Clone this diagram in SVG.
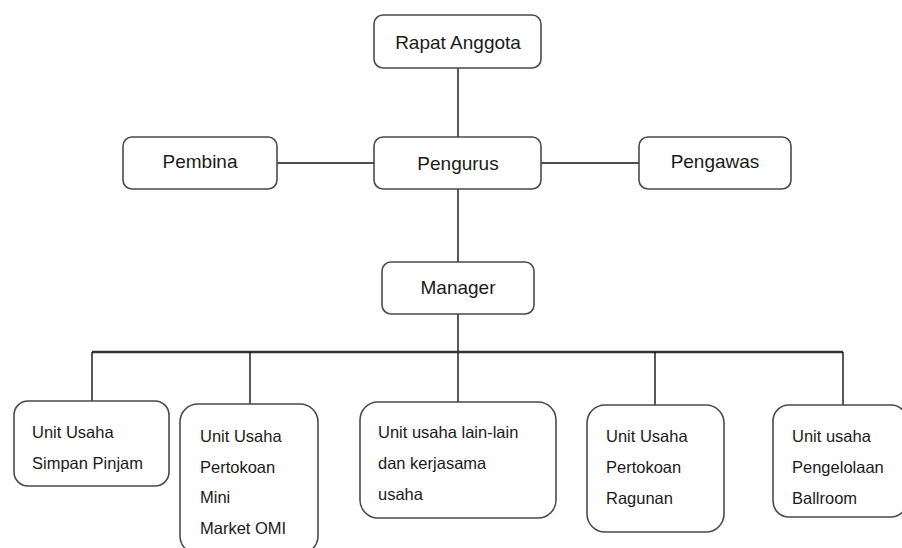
<svg xmlns="http://www.w3.org/2000/svg" width="902" height="548" viewBox="0 0 902 548">
<style>
.box{fill:#fff;stroke:#4a4a4a;stroke-width:1.6}
.big{font-family:"Liberation Sans",Arial,sans-serif;font-size:19px;fill:#1a1a1a;text-anchor:middle}
.sm{font-family:"Liberation Sans",Arial,sans-serif;font-size:16.5px;fill:#1a1a1a}
.ln{stroke:#111;stroke-width:1.4;fill:none}
</style>
<rect width="902" height="548" fill="#fff"/>
<g id="connectors">
<line class="ln" x1="458" y1="68" x2="458" y2="137"/>
<line class="ln" x1="277" y1="163" x2="374" y2="163"/>
<line class="ln" x1="541" y1="163" x2="639" y2="163"/>
<line class="ln" x1="458" y1="189" x2="458" y2="262"/>
<line class="ln" x1="458" y1="314" x2="458" y2="402"/>
<line x1="92" y1="352" x2="843" y2="352" stroke="#333" stroke-width="2.5"/>
<line class="ln" x1="92" y1="352" x2="92" y2="401"/>
<line class="ln" x1="250" y1="352" x2="250" y2="404"/>
<line class="ln" x1="655" y1="352" x2="655" y2="405"/>
<line class="ln" x1="843" y1="352" x2="843" y2="405"/>
</g>
<g id="rapat"><rect class="box" x="374" y="15" width="167" height="53" rx="9"/><text class="big" x="458" y="49">Rapat Anggota</text></g>
<g id="pembina"><rect class="box" x="123" y="137" width="154" height="52" rx="9"/><text class="big" x="200" y="168">Pembina</text></g>
<g id="pengurus"><rect class="box" x="374" y="137" width="167" height="52" rx="9"/><text class="big" x="458" y="170">Pengurus</text></g>
<g id="pengawas"><rect class="box" x="639" y="137" width="152" height="52" rx="9"/><text class="big" x="715" y="168">Pengawas</text></g>
<g id="manager"><rect class="box" x="382" y="262" width="152" height="52" rx="9"/><text class="big" x="458" y="294">Manager</text></g>
<g id="unit1"><rect class="box" x="14" y="401" width="155" height="85" rx="14"/><text class="sm" x="32" y="438">Unit Usaha</text><text class="sm" x="32" y="469">Simpan Pinjam</text></g>
<g id="unit2"><rect class="box" x="180" y="404" width="138" height="150" rx="18"/><text class="sm" x="200" y="442">Unit Usaha</text><text class="sm" x="200" y="473">Pertokoan</text><text class="sm" x="200" y="503">Mini</text><text class="sm" x="200" y="534">Market OMI</text></g>
<g id="unit3"><rect class="box" x="360" y="402" width="196" height="116" rx="18"/><text class="sm" x="378" y="438">Unit usaha lain-lain</text><text class="sm" x="378" y="469">dan kerjasama</text><text class="sm" x="378" y="500">usaha</text></g>
<g id="unit4"><rect class="box" x="587" y="405" width="137" height="127" rx="18"/><text class="sm" x="606" y="442">Unit Usaha</text><text class="sm" x="606" y="473">Pertokoan</text><text class="sm" x="606" y="504">Ragunan</text></g>
<g id="unit5"><rect class="box" x="773" y="405" width="134" height="112" rx="16"/><text class="sm" x="792" y="442">Unit usaha</text><text class="sm" x="792" y="473">Pengelolaan</text><text class="sm" x="792" y="504">Ballroom</text></g>
</svg>
